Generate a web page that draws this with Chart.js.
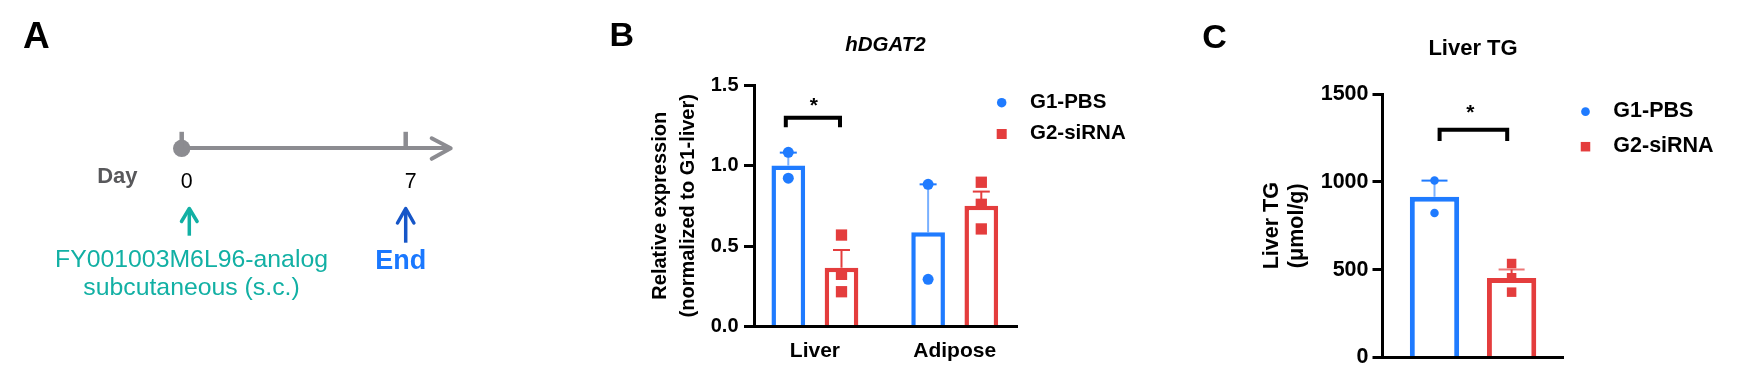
<!DOCTYPE html>
<html><head><meta charset="utf-8">
<script src="https://cdn.jsdelivr.net/npm/chart.js@4.4.1/dist/chart.umd.min.js"></script>
<style>
html,body{margin:0;padding:0;background:#fff;width:1739px;height:376px;overflow:hidden}
canvas{position:absolute;top:0}
</style></head><body>
<canvas id="cA" width="560" height="376" style="left:0px"></canvas>
<canvas id="cB" width="560" height="376" style="left:600px"></canvas>
<canvas id="cC" width="539" height="376" style="left:1200px"></canvas>
<script>
// ---------------- DATA ----------------
// Panel A: timeline
const timelineDays = [0, 7];
const dayTickLabels = ['0', '7'];
const dayAxisTitle = 'Day';
const eventTexts = [['FY001003M6L96-analog', 'subcutaneous (s.c.)'], ['End']];

// Panel B: hDGAT2 relative expression
const seriesNames = ['G1-PBS', 'G2-siRNA'];
const categoriesB = ['Liver', 'Adipose'];
const g1MeanB = [1.00, 0.585];
const g1SemB = [0.08, 0.298];
const g2MeanB = [0.365, 0.75];
const g2SemB = [0.11, 0.088];
const g1PointsB = [[1.082, 0.921], [0.883, 0.293]];
const g2PointsB = [[0.568, 0.324, 0.216], [0.896, 0.759, 0.606]];
const yTicksB = [0, 0.5, 1.0, 1.5];

// Panel C: Liver TG
const categoriesC = ['Liver TG'];
const g1MeanC = [915];
const g1SemC = [92];
const g2MeanC = [452];
const g2SemC = [49];
const g1PointsC = [[1007, 823]];
const g2PointsC = [[535, 454, 372]];
const yTicksC = [0, 500, 1000, 1500];

// ---------------- STYLE ----------------
const FONT = "'Liberation Sans', Arial, Helvetica, sans-serif";
const BLUE = '#1f7bff', RED = '#e43d3d', GRAY = '#8c8c91';
Chart.defaults.font.family = FONT;
Chart.defaults.color = '#000';

function drawMarker(ctx, type, x, y, size, color) {
  ctx.fillStyle = color;
  if (type === 'rect') { ctx.fillRect(x - size / 2, y - size / 2, size, size); }
  else { ctx.beginPath(); ctx.arc(x, y, size / 2, 0, Math.PI * 2); ctx.fill(); }
}

// plugin: error bars, points, bracket, title, legend, panel letter
const barExtras = {
  id: 'barExtras',
  afterDatasetsDraw(chart, args, o) {
    const ctx = chart.ctx, ys = chart.scales.y;
    ctx.save();
    chart.data.datasets.forEach((ds, di) => {
      chart.getDatasetMeta(di).data.forEach((bar, ci) => {
        const d = ds.data[ci];
        const mean = typeof d === 'object' ? d.y : d;
        const yTop = ys.getPixelForValue(mean + ds.sem[ci]);
        ctx.lineWidth = o.errWidth; ctx.lineCap = 'butt';
        ctx.strokeStyle = ds.errColor;
        ctx.beginPath(); ctx.moveTo(bar.x, bar.y); ctx.lineTo(bar.x, yTop); ctx.stroke();
        ctx.strokeStyle = ds.capColor;
        ctx.beginPath(); ctx.moveTo(bar.x - o.capWidth / 2, yTop); ctx.lineTo(bar.x + o.capWidth / 2, yTop); ctx.stroke();
      });
    });
    chart.data.datasets.forEach((ds, di) => {
      chart.getDatasetMeta(di).data.forEach((bar, ci) => {
        ds.points[ci].forEach(v => drawMarker(ctx, ds.marker, bar.x, ys.getPixelForValue(v),
          ds.marker === 'rect' ? o.squareSize : o.circleSize, ds.borderColor));
      });
    });
    ctx.restore();
  },
  afterDraw(chart, args, o) {
    const ctx = chart.ctx, ys = chart.scales.y, ca = chart.chartArea;
    ctx.save();
    // significance bracket
    const b = o.bracket;
    const x1 = chart.getDatasetMeta(b.from[0]).data[b.from[1]].x + b.insetL;
    const x2 = chart.getDatasetMeta(b.to[0]).data[b.to[1]].x - b.insetR;
    const yT = ys.getPixelForValue(b.top), yL = ys.getPixelForValue(b.leg);
    ctx.strokeStyle = '#000'; ctx.lineWidth = b.width; ctx.lineJoin = 'miter'; ctx.lineCap = 'butt';
    ctx.beginPath(); ctx.moveTo(x1, yL); ctx.lineTo(x1, yT); ctx.lineTo(x2, yT); ctx.lineTo(x2, yL); ctx.stroke();
    ctx.fillStyle = '#000'; ctx.font = 'bold ' + b.starSize + 'px ' + FONT;
    ctx.textAlign = 'center'; ctx.textBaseline = 'alphabetic';
    ctx.fillText(b.label, (x1 + x2) / 2 + b.starDx, ys.getPixelForValue(b.star) + b.starSize * 0.57);
    // chart title
    const t = o.title;
    ctx.font = t.font; ctx.textBaseline = 'middle'; ctx.textAlign = 'center';
    ctx.fillText(t.text, (ca.left + ca.right) / 2, t.y);
    // legend
    const L = o.legend;
    chart.data.datasets.forEach((ds, i) => {
      drawMarker(ctx, ds.marker, L.x, L.ys[i], ds.marker === 'rect' ? L.square : L.circle, ds.borderColor);
      ctx.fillStyle = '#000'; ctx.font = 'bold ' + L.size + 'px ' + FONT;
      ctx.textAlign = 'left'; ctx.textBaseline = 'middle';
      ctx.fillText(ds.label, L.textX, L.ys[i] + L.dy);
    });
    // panel letter
    const p = o.letter;
    ctx.font = 'bold ' + p.size + 'px ' + FONT; ctx.textAlign = 'left'; ctx.textBaseline = 'alphabetic';
    ctx.fillText(p.text, p.x, p.y);
    ctx.restore();
  }
};

// ---------------- PANEL A ----------------
const timelinePlugin = {
  id: 'timeline',
  afterDraw(chart, args, o) {
    const ctx = chart.ctx, xs = chart.scales.x, axisY = xs.top;
    ctx.save();
    ctx.strokeStyle = GRAY; ctx.lineWidth = 4.5; ctx.lineCap = 'butt';
    timelineDays.forEach(d => {
      const x = xs.getPixelForValue(d);
      ctx.beginPath(); ctx.moveTo(x, axisY); ctx.lineTo(x, axisY - 16.5); ctx.stroke();
    });
    const tipX = xs.right + 3.7;
    ctx.lineWidth = 4; ctx.lineCap = 'round'; ctx.lineJoin = 'round';
    ctx.beginPath(); ctx.moveTo(tipX - 19, axisY - 10); ctx.lineTo(tipX, axisY); ctx.lineTo(tipX - 19, axisY + 10.5); ctx.stroke();
    ctx.fillStyle = '#58585b'; ctx.font = 'bold 22px ' + FONT; ctx.textAlign = 'right'; ctx.textBaseline = 'alphabetic';
    ctx.fillText(dayAxisTitle, xs.getPixelForValue(timelineDays[0]) - 44.2, 183.3);
    timelineDays.forEach((d, i) => {
      const e = o.events[i];
      const x = xs.getPixelForValue(d) + e.dx;
      ctx.strokeStyle = e.arrowColor; ctx.lineWidth = 3.5; ctx.lineCap = 'butt'; ctx.lineJoin = 'round';
      ctx.beginPath(); ctx.moveTo(x, e.y1); ctx.lineTo(x, e.y0 + 1); ctx.stroke();
      ctx.lineCap = 'round';
      ctx.beginPath(); ctx.moveTo(x - e.hw, e.y0 + e.hl); ctx.lineTo(x, e.y0); ctx.lineTo(x + e.hw, e.y0 + e.hl); ctx.stroke();
      ctx.fillStyle = e.textColor; ctx.font = e.font; ctx.textAlign = 'center'; ctx.textBaseline = 'alphabetic';
      eventTexts[i].forEach((txt, k) => ctx.fillText(txt, x + e.tdx, e.baselines[k]));
    });
    ctx.font = 'bold 37px ' + FONT; ctx.fillStyle = '#000'; ctx.textAlign = 'left';
    ctx.fillText('A', 23, 48.3);
    ctx.restore();
  }
};

new Chart(document.getElementById('cA'), {
  type: 'scatter',
  data: { datasets: [{
    data: timelineDays.map(d => ({ x: d, y: 0 })),
    pointRadius: [8.7, 0], pointBackgroundColor: GRAY, pointBorderWidth: 0, clip: false, showLine: false
  }] },
  options: {
    responsive: false, animation: false, devicePixelRatio: 1, events: [],
    layout: { padding: { left: 181.7, right: 560 - 447, top: 100, bottom: 167.7 } },
    plugins: { legend: { display: false }, tooltip: { enabled: false },
      timeline: { events: [
        { dx: 7.6, y0: 208.5, y1: 235.7, hw: 7.8, hl: 13, tdx: 2.2, baselines: [266.7, 295],
          arrowColor: '#12b0a4', textColor: '#12b0a4', font: '24.8px ' + FONT },
        { dx: 0, y0: 208.5, y1: 242.7, hw: 8.2, hl: 14.5, tdx: -4.9, baselines: [269.3],
          arrowColor: '#1656c8', textColor: '#1a78ff', font: 'bold 27px ' + FONT }
      ] } },
    scales: {
      x: { type: 'linear', min: 0, max: (447 - 181.7) / 32, offset: false,
        afterBuildTicks: s => { s.ticks = timelineDays.map(v => ({ value: v })); },
        afterFit: s => { s.height = 60; },
        ticks: { callback: (v, i) => dayTickLabels[i], font: { size: 21.4 }, color: '#000',
          padding: 20.5, labelOffset: 5, maxRotation: 0, autoSkip: false },
        grid: { display: false, drawTicks: false },
        border: { display: true, width: 4, color: GRAY } },
      y: { display: false, min: 0, max: 1 }
    }
  },
  plugins: [timelinePlugin]
});

// ---------------- PANEL B ----------------
new Chart(document.getElementById('cB'), {
  type: 'bar',
  data: { datasets: [
    { label: seriesNames[0], data: g1MeanB.map((v, i) => ({ x: i, y: v })), sem: g1SemB, points: g1PointsB,
      marker: 'circle', borderColor: BLUE, backgroundColor: '#ffffff', borderWidth: 4.5, borderSkipped: 'start',
      errColor: 'rgba(31,123,255,0.6)', capColor: BLUE },
    { label: seriesNames[1], data: g2MeanB.map((v, i) => ({ x: i, y: v })), sem: g2SemB, points: g2PointsB,
      marker: 'rect', borderColor: RED, backgroundColor: '#ffffff', borderWidth: 4.5, borderSkipped: 'start',
      errColor: RED, capColor: RED }
  ] },
  options: {
    responsive: false, animation: false, devicePixelRatio: 1, events: [],
    categoryPercentage: 0.761, barPercentage: 0.633,
    layout: { padding: { left: 0, top: 85, right: 143, bottom: 9.5 } },
    plugins: { legend: { display: false }, tooltip: { enabled: false },
      barExtras: {
        errWidth: 2, capWidth: 17, circleSize: 11, squareSize: 11.3,
        bracket: { from: [0, 0], to: [1, 0], insetL: -2.5, insetR: 1.5, top: 1.296, leg: 1.238, width: 4,
          label: '*', star: 1.408, starSize: 21, starDx: 1 },
        title: { text: 'hDGAT2', y: 45.5, font: 'italic bold 20.5px ' + FONT },
        legend: { x: 401.7, ys: [102.7, 134], textX: 430, dy: -0.5, size: 20.5, circle: 9.5, square: 10 },
        letter: { text: 'B', x: 9.5, y: 46.3, size: 34 }
      } },
    scales: {
      x: { type: 'linear', min: -0.4356, max: 1.4456, offset: false,
        afterBuildTicks: s => { s.ticks = categoriesB.map((_, i) => ({ value: i })); },
        afterFit: s => { s.height = 40; },
        ticks: { callback: v => categoriesB[v], font: { size: 21, weight: 'bold' }, color: '#000',
          padding: 11.7, maxRotation: 0, autoSkip: false },
        grid: { display: false, drawTicks: false, offset: false },
        border: { display: true, width: 3, color: '#000' } },
      y: { min: 0, max: 1.5,
        afterBuildTicks: s => { s.ticks = yTicksB.map(v => ({ value: v })); },
        afterFit: s => { s.width = 154; },
        ticks: { callback: v => v.toFixed(1), font: { size: 20, weight: 'bold' }, color: '#000', padding: 5.5 },
        grid: { display: true, drawOnChartArea: false, drawTicks: true, tickLength: 10, tickWidth: 3, tickColor: '#000', lineWidth: 3, color: '#000' },
        border: { display: true, width: 3, color: '#000' },
        title: { display: true, text: ['Relative expression', '(normalized to G1-liver)'], color: '#000',
          font: { size: 20, weight: 'bold', lineHeight: 1.415 }, padding: { top: 46.5, bottom: 0 } } }
    }
  },
  plugins: [barExtras]
});

// ---------------- PANEL C ----------------
new Chart(document.getElementById('cC'), {
  type: 'bar',
  data: { labels: categoriesC, datasets: [
    { label: seriesNames[0], data: g1MeanC, sem: g1SemC, points: g1PointsC,
      marker: 'circle', borderColor: BLUE, backgroundColor: '#ffffff', borderWidth: 5, borderSkipped: 'start',
      errColor: 'rgba(31,123,255,0.6)', capColor: BLUE },
    { label: seriesNames[1], data: g2MeanC, sem: g2SemC, points: g2PointsC,
      marker: 'rect', borderColor: RED, backgroundColor: '#ffffff', borderWidth: 5, borderSkipped: 'start',
      errColor: RED, capColor: 'rgba(228,61,61,0.7)' }
  ] },
  options: {
    responsive: false, animation: false, devicePixelRatio: 1, events: [],
    categoryPercentage: 0.8515, barPercentage: 0.64,
    layout: { padding: { left: 0, top: 94, right: 175.4, bottom: 8.5 } },
    plugins: { legend: { display: false }, tooltip: { enabled: false },
      barExtras: {
        errWidth: 2, capWidth: 26, circleSize: 8.5, squareSize: 9.5,
        bracket: { from: [0, 0], to: [1, 0], insetL: 5.1, insetR: 4.4, top: 1297, leg: 1232, width: 4,
          label: '*', star: 1424, starSize: 21, starDx: -3 },
        title: { text: 'Liver TG', y: 48.8, font: 'bold 22px ' + FONT },
        legend: { x: 385.5, ys: [111.7, 146.7], textX: 413.3, dy: -0.5, size: 21.5, circle: 8.7, square: 9.5 },
        letter: { text: 'C', x: 2.3, y: 48.3, size: 34 }
      } },
    scales: {
      x: { type: 'category', offset: true,
        afterFit: s => { s.height = 10; },
        ticks: { display: false },
        grid: { display: false, drawTicks: false },
        border: { display: true, width: 3, color: '#000' } },
      y: { min: 0, max: 1500,
        afterBuildTicks: s => { s.ticks = yTicksC.map(v => ({ value: v })); },
        afterFit: s => { s.width = 182.5; },
        ticks: { callback: v => String(v), font: { size: 21.5, weight: 'bold' }, color: '#000', padding: 4 },
        grid: { display: true, drawOnChartArea: false, drawTicks: true, tickLength: 10, tickWidth: 3, tickColor: '#000', lineWidth: 3, color: '#000' },
        border: { display: true, width: 3, color: '#000' },
        title: { display: true, text: ['Liver TG', '(\u03bcmol/g)'], color: '#000',
          font: { size: 21.5, weight: 'bold', lineHeight: 1.17 }, padding: { top: 59.3, bottom: 0 } } }
    }
  },
  plugins: [barExtras]
});
</script>
</body></html>
